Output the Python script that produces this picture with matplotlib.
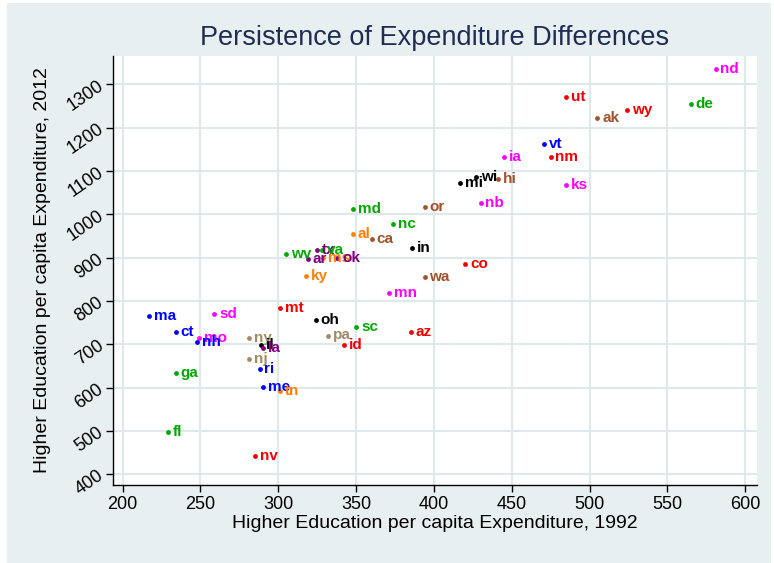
import matplotlib
matplotlib.use("Agg")
from matplotlib import pyplot as plt
from matplotlib.patches import Rectangle

states = ["nd", "ut", "wy", "ak", "de", "vt", "ia", "nm", "mi", "wi", "hi", "ks", "nb",
          "or", "md", "nc", "al", "ca", "in", "wv", "tx", "va", "ar", "ms", "ok", "co",
          "ky", "wa", "mn", "mt", "oh", "sc", "az", "pa", "id", "ny", "ma", "sd", "ct",
          "mo", "nh", "il", "la", "nj", "ri", "ga", "me", "tn", "fl", "nv"]
exp1992 = [581, 485, 524, 505, 565, 471, 445, 475, 417, 427, 441, 485, 430,
           394, 348, 374, 348, 360, 386, 305, 325, 328, 319, 329, 338, 420,
           318, 394, 371, 301, 324, 350, 385, 332, 342, 281, 217, 259, 234,
           249, 248, 289, 290, 281, 288, 234, 290, 301, 229, 285]
exp2012 = [1336, 1271, 1240, 1221, 1255, 1163, 1132, 1133, 1073, 1085, 1082, 1068, 1025,
           1016, 1011, 978, 954, 943, 921, 908, 918, 917, 897, 898, 898, 885,
           858, 856, 818, 784, 755, 740, 728, 720, 697, 715, 764, 770, 727,
           714, 704, 698, 691, 666, 643, 634, 602, 591, 498, 441]
group = ["mag", "red", "red", "brn", "grn", "blu", "mag", "red", "blk", "blk", "brn", "mag", "mag",
         "brn", "grn", "grn", "org", "brn", "blk", "grn", "pur", "grn", "pur", "org", "pur", "red",
         "org", "brn", "mag", "red", "blk", "grn", "red", "tan", "red", "tan", "blu", "mag", "blu",
         "mag", "blu", "blk", "pur", "tan", "blu", "grn", "blu", "org", "grn", "red"]
xticks = list(range(200, 601, 50))
yticks = list(range(400, 1301, 100))

palette = {"blu": "#0000ff", "red": "#f00000", "grn": "#00a800", "mag": "#ff00ff",
           "brn": "#a0522d", "blk": "#000000", "org": "#ff8000", "pur": "#800080",
           "tan": "#a08c64"}

plt.rcParams["font.family"] = ["Liberation Sans", "DejaVu Sans"]

fig = plt.figure(figsize=(7.74, 5.63), dpi=100, facecolor="white")
bg = Rectangle((7 / 774, 0), 764 / 774, 1 - 3 / 563, transform=fig.transFigure,
               facecolor="#e8eff1", edgecolor="none", zorder=-10)
fig.add_artist(bg)
ax = fig.add_axes([113 / 774, 1 - 485 / 563, 644 / 774, 429 / 563])
ax.set_facecolor("white")

for s, x, y, g in zip(states, exp1992, exp2012, group):
    c = palette[g]
    ax.scatter(x, y, s=12, color=c, zorder=3, linewidths=0)
    ax.annotate(s, (x, y), xytext=(3.5, 0), textcoords="offset points",
                ha="left", va="center", color=c, fontsize=11, fontweight="bold",
                zorder=4)

ax.set_xlim(193.8, 607.6)
ax.set_ylim(375, 1365)
ax.set_xticks(xticks)
ax.set_yticks(yticks)
ax.grid(True, color="#dfe8eb", linewidth=1.5)
ax.set_axisbelow(True)
for side in ["top", "right"]:
    ax.spines[side].set_visible(False)
ax.spines["left"].set_linewidth(1.0)
ax.spines["bottom"].set_linewidth(1.0)
ax.tick_params(direction="out", length=5, width=1, labelsize=13, pad=3)
for lab in ax.get_yticklabels():
    lab.set_rotation(35)
    lab.set_ha("right")
    lab.set_va("center")
    lab.set_rotation_mode("anchor")

ax.set_xlabel("Higher Education per capita Expenditure, 1992", fontsize=14, labelpad=1)
ax.set_ylabel("Higher Education per capita Expenditure, 2012", fontsize=14, labelpad=9)
ax.set_title("Persistence of Expenditure Differences", fontsize=19.5, color="#1f2d54", pad=8)

fig.savefig("out.png", dpi=100, facecolor=fig.get_facecolor())
